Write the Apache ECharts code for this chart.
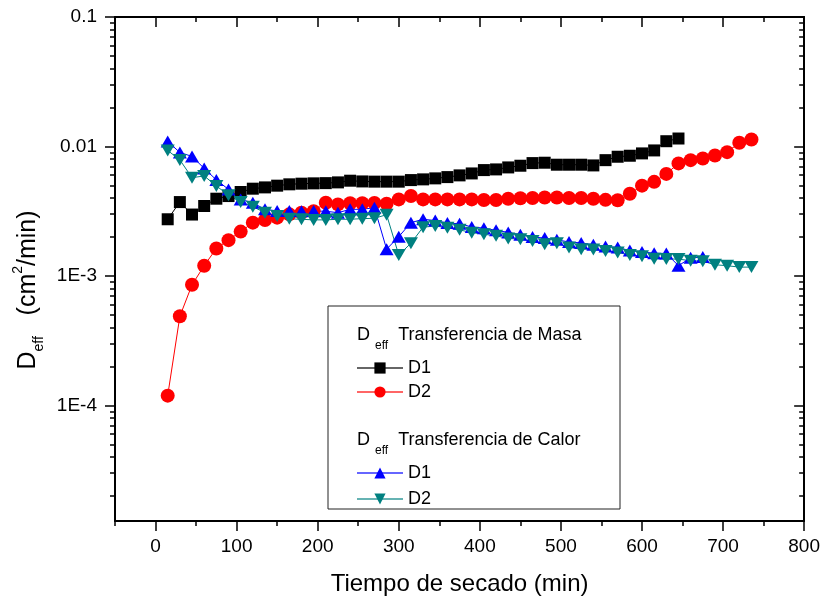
<!DOCTYPE html>
<html>
<head>
<meta charset="utf-8">
<script src="https://cdn.jsdelivr.net/npm/echarts@6/dist/echarts.min.js"></script>
<style>
html,body{margin:0;padding:0;background:#fff;}
#chart{width:823px;height:601px;}
</style>
</head>
<body>
<div id="chart"></div>
<script>
// ---- data (time in min, Deff in cm2/min) ----
const tMasaD1 = [15,30,45,60,75,90,105,120,135,150,165,180,195,210,225,240,255,270,285,300,315,330,345,360,375,390,405,420,435,450,465,480,495,510,525,540,555,570,585,600,615,630,645];
const masaD1 = [2.74e-3,3.72e-3,2.98e-3,3.47e-3,3.95e-3,4.14e-3,4.45e-3,4.72e-3,4.83e-3,4.98e-3,5.10e-3,5.16e-3,5.19e-3,5.21e-3,5.28e-3,5.44e-3,5.37e-3,5.35e-3,5.35e-3,5.35e-3,5.50e-3,5.57e-3,5.67e-3,5.80e-3,5.98e-3,6.19e-3,6.57e-3,6.65e-3,6.89e-3,7.10e-3,7.44e-3,7.49e-3,7.23e-3,7.23e-3,7.23e-3,7.14e-3,7.84e-3,8.33e-3,8.48e-3,8.84e-3,9.32e-3,1.098e-2,1.152e-2];

const tMasaD2 = [15,30,45,60,75,90,105,120,135,150,165,180,195,210,225,240,255,270,285,300,315,330,345,360,375,390,405,420,435,450,465,480,495,510,525,540,555,570,585,600,615,630,645,660,675,690,705,720,735];
const masaD2 = [1.19e-4,4.88e-4,8.54e-4,1.20e-3,1.63e-3,1.89e-3,2.20e-3,2.58e-3,2.70e-3,2.82e-3,2.99e-3,3.08e-3,3.16e-3,3.68e-3,3.57e-3,3.64e-3,3.64e-3,3.66e-3,3.61e-3,3.90e-3,4.14e-3,3.90e-3,3.90e-3,3.90e-3,3.90e-3,3.90e-3,3.86e-3,3.86e-3,3.95e-3,3.98e-3,4.00e-3,4.03e-3,4.03e-3,4.00e-3,4.00e-3,3.95e-3,3.87e-3,3.84e-3,4.31e-3,4.98e-3,5.33e-3,6.14e-3,7.40e-3,7.84e-3,8.08e-3,8.52e-3,9.04e-3,1.068e-2,1.132e-2];

const tCalorD1 = [15,30,45,60,75,90,105,120,135,150,165,180,195,210,225,240,255,270,285,300,315,330,345,360,375,390,405,420,435,450,465,480,495,510,525,540,555,570,585,600,615,630,645,660,675];
const calorD1 = [1.093e-2,8.99e-3,8.38e-3,6.77e-3,5.52e-3,4.66e-3,3.90e-3,3.67e-3,3.27e-3,3.18e-3,3.17e-3,3.16e-3,3.17e-3,3.16e-3,3.08e-3,3.27e-3,3.27e-3,3.37e-3,1.61e-3,2.01e-3,2.58e-3,2.74e-3,2.68e-3,2.56e-3,2.53e-3,2.39e-3,2.34e-3,2.25e-3,2.17e-3,2.08e-3,2.00e-3,1.96e-3,1.90e-3,1.83e-3,1.80e-3,1.74e-3,1.69e-3,1.66e-3,1.57e-3,1.53e-3,1.50e-3,1.49e-3,1.20e-3,1.38e-3,1.40e-3];

const tCalorD2 = [15,30,45,60,75,90,105,120,135,150,165,180,195,210,225,240,255,270,285,300,315,330,345,360,375,390,405,420,435,450,465,480,495,510,525,540,555,570,585,600,615,630,645,660,675,690,705,720,735];
const calorD2 = [9.32e-3,7.87e-3,5.74e-3,5.92e-3,4.96e-3,4.20e-3,3.72e-3,3.43e-3,3.08e-3,2.91e-3,2.76e-3,2.74e-3,2.71e-3,2.71e-3,2.74e-3,2.74e-3,2.77e-3,2.79e-3,2.97e-3,1.45e-3,1.79e-3,2.38e-3,2.43e-3,2.36e-3,2.27e-3,2.16e-3,2.10e-3,2.04e-3,1.95e-3,1.92e-3,1.86e-3,1.76e-3,1.79e-3,1.66e-3,1.61e-3,1.60e-3,1.56e-3,1.52e-3,1.45e-3,1.42e-3,1.36e-3,1.35e-3,1.35e-3,1.31e-3,1.30e-3,1.22e-3,1.20e-3,1.17e-3,1.17e-3];

// ---- ticks ----
const xMajorTicks = [0,100,200,300,400,500,600,700,800];
const xMinorTicks = [-50,50,150,250,350,450,550,650,750];
const yMajorTicks = [1e-4,1e-3,1e-2,1e-1];
const yMajorLabels = ['1E-4','1E-3','0.01','0.1'];
const yMinorTicks = [2e-5,3e-5,4e-5,5e-5,6e-5,7e-5,8e-5,9e-5,
  2e-4,3e-4,4e-4,5e-4,6e-4,7e-4,8e-4,9e-4,
  2e-3,3e-3,4e-3,5e-3,6e-3,7e-3,8e-3,9e-3,
  2e-2,3e-2,4e-2,5e-2,6e-2,7e-2,8e-2,9e-2];

const FONT = "'Liberation Sans', Arial, sans-serif";
const pairs = (t, v) => t.map((x, i) => [x, v[i]]);

const chart = echarts.init(document.getElementById('chart'), null, {renderer: 'canvas'});

const X_MIN = -50, X_MAX = 800, Y_MIN = 1.28e-5, Y_MAX = 0.1;
const tickStyle = {color: '#000', width: 1.5};
const lineStyleAxis = {color: '#000', width: 2};

function xAx(pos, ticks, len, inside, showLine, showLabel, extra) {
  return Object.assign({
    type: 'value', position: pos, min: X_MIN, max: X_MAX,
    axisLine: {show: showLine, onZero: false, lineStyle: lineStyleAxis},
    axisTick: {show: true, inside: inside, length: len, customValues: ticks, lineStyle: tickStyle},
    axisLabel: showLabel ? {show: true, customValues: ticks, fontSize: 19, margin: 16, color: '#000', fontFamily: FONT} : {show: false},
    splitLine: {show: false}
  }, extra || {});
}
function yAx(pos, ticks, len, inside, showLine, showLabel) {
  return {
    type: 'log', logBase: 10, position: pos, min: Y_MIN, max: Y_MAX,
    axisLine: {show: showLine, onZero: false, lineStyle: lineStyleAxis},
    axisTick: {show: true, inside: inside, length: len, customValues: ticks, lineStyle: tickStyle},
    axisLabel: showLabel ? {
      show: true, customValues: ticks, fontSize: 19, margin: 18, color: '#000', fontFamily: FONT,
      formatter: function (v) {
        for (let i = 0; i < yMajorTicks.length; i++) {
          if (Math.abs(Math.log10(v) - Math.log10(yMajorTicks[i])) < 0.01) return yMajorLabels[i];
        }
        return '';
      }
    } : {show: false},
    splitLine: {show: false},
    minorTick: {show: false}
  };
}

function series(name, t, v, color, symbol, size, rotate) {
  return {
    name: name, type: 'line', xAxisIndex: 0, yAxisIndex: 0,
    data: pairs(t, v),
    symbol: symbol, symbolSize: size, symbolRotate: rotate || 0,
    showAllSymbol: true,
    lineStyle: {color: color, width: 1},
    itemStyle: {color: color, borderWidth: 0},
    emphasis: {disabled: true},
    animation: false
  };
}

const legendCommon = {
  orient: 'vertical', left: 356, itemWidth: 46, itemHeight: 14, padding: 0,
  textStyle: {fontSize: 18, fontFamily: FONT, color: '#000'},
  formatter: function (n) { return n.split(' ')[0]; },
  selectedMode: false,
  lineStyle: {opacity: 0.6}
};

const option = {
  animation: false,
  backgroundColor: '#fff',
  grid: {left: 115, right: 18, top: 17, bottom: 78.5, containLabel: false},
  xAxis: [
    xAx('bottom', xMajorTicks, 10, false, true, true, {
      name: 'Tiempo de secado (min)', nameLocation: 'middle', nameGap: 51,
      nameTextStyle: {fontSize: 24, fontFamily: FONT, color: '#000'}
    }),
    xAx('bottom', xMinorTicks, 5, false, false, false),
    xAx('top', xMajorTicks, 10, true, true, false),
    xAx('top', xMinorTicks, 5, true, false, false)
  ],
  yAxis: [
    yAx('left', yMajorTicks, 10, false, true, true),
    yAx('left', yMinorTicks, 5, false, false, false),
    yAx('right', yMajorTicks, 10, true, true, false),
    yAx('right', yMinorTicks, 5, true, false, false)
  ],
  legend: [
    Object.assign({}, legendCommon, {data: ['D1 masa', 'D2 masa'], top: 359, itemGap: 6}),
    Object.assign({}, legendCommon, {data: ['D1 calor', 'D2 calor'], top: 464, itemGap: 8})
  ],
  graphic: [
    {
      type: 'rect', z: 0,
      shape: {x: 328, y: 306, width: 292, height: 203},
      style: {fill: 'none', stroke: '#222', lineWidth: 1}
    },
    {
      type: 'text', x: 357, y: 335.5,
      style: {
        text: '{d|D }{s|eff}{d|  Transferencia de Masa}',
        verticalAlign: 'middle', align: 'left',
        rich: {
          d: {fontSize: 18, fontFamily: FONT, fill: '#000'},
          s: {fontSize: 12, fontFamily: FONT, fill: '#000', padding: [20, 0, 0, 0]}
        }
      }
    },
    {
      type: 'text', x: 357, y: 440.5,
      style: {
        text: '{d|D }{s|eff}{d|  Transferencia de Calor}',
        verticalAlign: 'middle', align: 'left',
        rich: {
          d: {fontSize: 18, fontFamily: FONT, fill: '#000'},
          s: {fontSize: 12, fontFamily: FONT, fill: '#000', padding: [20, 0, 0, 0]}
        }
      }
    },
    {
      type: 'text', x: 28, y: 290, rotation: Math.PI / 2,
      style: {
        text: '{d|D}{s|eff}{d|   (cm}{p|2}{d|/min)}',
        verticalAlign: 'middle', align: 'center',
        rich: {
          d: {fontSize: 25, fontFamily: FONT, fill: '#000'},
          s: {fontSize: 14, fontFamily: FONT, fill: '#000', padding: [22, 0, 0, 0]},
          p: {fontSize: 14, fontFamily: FONT, fill: '#000', padding: [0, 0, 20, 0]}
        }
      }
    }
  ],
  series: [
    series('D1 masa', tMasaD1, masaD1, '#000000', 'rect', 12),
    series('D2 masa', tMasaD2, masaD2, '#ff0000', 'circle', 14),
    series('D1 calor', tCalorD1, calorD1, '#0000ff', 'triangle', [14, 12]),
    series('D2 calor', tCalorD2, calorD2, '#008080', 'triangle', [14, 12], 180)
  ]
};
chart.setOption(option);
</script>
</body>
</html>
